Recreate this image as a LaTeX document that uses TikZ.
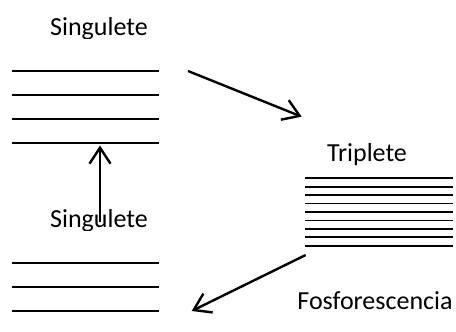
\documentclass[tikz,border=0pt]{standalone}
\usepackage{fontspec}
\setmainfont{Carlito}
\usetikzlibrary{arrows.meta}
\tikzset{
  level/.style={line width=2pt},
  trip/.style={line width=1.8pt},
  label/.style={inner sep=0pt, anchor=base, font=\fontsize{26}{30}\selectfont},
  trans/.style={line width=2.4pt, -{Straight Barb[length=16pt,width=21pt,line width=2.4pt]}},
}
\begin{document}
\begin{tikzpicture}[x=1pt,y=-1pt]
\useasboundingbox (0,0) rectangle (456,332);

% upper singlet levels
\foreach \y [count=\i] in {71,95,119,143}
  \draw[level] (12,\y) coordinate (s1l\i) -- (159,\y) coordinate (s1r\i);
% lower singlet levels
\foreach \y [count=\i] in {263,287,311}
  \draw[level] (12,\y) coordinate (s0l\i) -- (159,\y) coordinate (s0r\i);
% triplet levels
\foreach \i in {0,...,8}
  \draw[trip] (305,{178.3+8.42*\i}) -- (453,{178.3+8.42*\i});

% labels (descenders cut off at the text box edge)
\begin{scope}
  \clip (30,0) rectangle (170,38.5);
  \node[label] (sup) at (99,35) {Singulete};
\end{scope}
\begin{scope}
  \clip (30,190) rectangle (170,230.5);
  \node[label] (sdown) at (99,227.5) {Singulete};
\end{scope}
\begin{scope}
  \clip (300,130) rectangle (430,166);
  \node[label] (tlab) at (367,161.5) {Triplete};
\end{scope}
\node[label] (flab) at (375,309.5) {Fosforescencia};

% transitions
\coordinate (a1s) at (188,71);
\coordinate (a1e) at (301.7,116.7);
\coordinate (a2s) at (305.7,255);
\coordinate (a2e) at (191.7,311);
\coordinate (a3s) at (100,222);
\coordinate (a3e) at (100,145.5);
\draw[trans] (a1s) -- (a1e);
\draw[trans] (a2s) -- (a2e);
\draw[trans] (a3s) -- (a3e);
\end{tikzpicture}
\end{document}
